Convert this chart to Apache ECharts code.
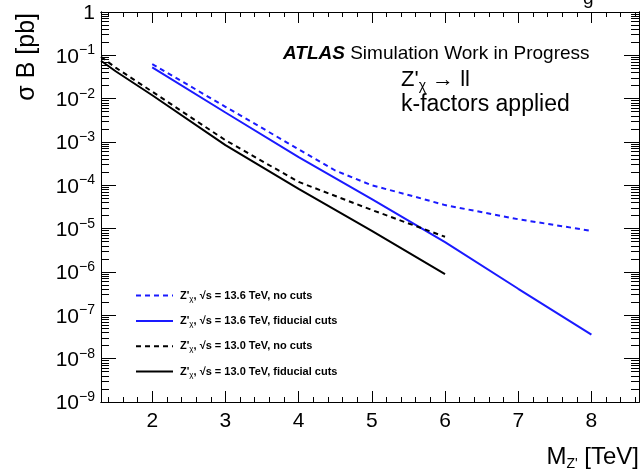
<!DOCTYPE html>
<html><head><meta charset="utf-8">
<script src="https://cdn.jsdelivr.net/npm/echarts@6/dist/echarts.min.js"></script>
<style>html,body{margin:0;padding:0;background:#fff}#c{width:641px;height:470px}</style>
</head><body><div id="c"></div>
<script>
// Z'_chi -> ll cross section times branching ratio [pb] vs mass [TeV]
const massNoCuts136 = [2, 3, 4, 4.5, 5, 5.5, 6, 7, 8];
const xsecNoCuts136 = [0.063, 6.5e-3, 6.8e-4, 2.2e-4, 1.0e-4, 6.0e-5, 3.5e-5, 1.65e-5, 8.9e-6];
const massFid136 = [2, 3, 4, 5, 6, 7, 8];
const xsecFid136 = [0.053, 4.8e-3, 4.5e-4, 4.8e-5, 4.9e-6, 4.1e-7, 3.6e-8];
const massNoCuts130 = [1.3, 1.5, 2, 3, 4, 5, 6];
const xsecNoCuts130 = [0.093, 0.052, 0.0145, 1.1e-3, 1.2e-4, 2.7e-5, 6.5e-6];
const massFid130 = [1.3, 1.5, 2, 3, 4, 5, 6];
const xsecFid130 = [0.075, 0.043, 0.012, 8.5e-4, 8.3e-5, 8.9e-6, 8.9e-7];

const seriesNames = [
  "Z'_χ, √s = 13.6 TeV, no cuts",
  "Z'_χ, √s = 13.6 TeV, fiducial cuts",
  "Z'_χ, √s = 13.0 TeV, no cuts",
  "Z'_χ, √s = 13.0 TeV, fiducial cuts"
];

// axis ticks
const xMajorTicks = [2, 3, 4, 5, 6, 7, 8];
const yDecades = [1e-9, 1e-8, 1e-7, 1e-6, 1e-5, 1e-4, 1e-3, 1e-2, 1e-1, 1];
const X_MIN = 1.3, X_MAX = 8.65;

const xMinorTicks = [];
for (let i = 7; i <= 43; i++) { if (i % 5 !== 0) xMinorTicks.push(i / 5); }
const yMinorTicks = [];
yDecades.slice(0, -1).forEach(d => { for (let k = 2; k <= 9; k++) yMinorTicks.push(k * d); });

const pairs = (xs, ys) => xs.map((x, i) => [x, ys[i]]);
const FONT = 'Liberation Sans';
const BLUE = '#1a1aff';

function lineSeries(name, xs, ys, color, dashed) {
  return {
    name, type: 'line', data: pairs(xs, ys), xAxisIndex: 0, yAxisIndex: 0,
    symbol: 'none', animation: false,
    lineStyle: { color, width: 2, type: dashed ? [5, 4] : 'solid' },
    itemStyle: { color }
  };
}

// frame axes that only carry tick marks
const tickAxisX = (pos, len, values) => ({
  type: 'value', position: pos, min: X_MIN, max: X_MAX,
  splitLine: { show: false },
  axisLine: { show: true, onZero: false, lineStyle: { color: '#000' } },
  axisTick: { show: true, inside: true, length: len, customValues: values },
  axisLabel: { show: false, customValues: values }
});
const tickAxisY = (pos, len, values) => ({
  type: 'log', logBase: 10, position: pos, min: 1e-9, max: 1,
  splitLine: { show: false },
  axisLine: { show: true, onZero: false, lineStyle: { color: '#000' } },
  axisTick: { show: true, inside: true, length: len, customValues: values },
  axisLabel: { show: false, customValues: values }
});

const chart = echarts.init(document.getElementById('c'));
chart.setOption({
  animation: false,
  backgroundColor: '#fff',
  grid: { left: 101, right: 2, top: 12, bottom: 68 },
  xAxis: [
    {
      type: 'value', position: 'bottom', min: X_MIN, max: X_MAX,
      splitLine: { show: false },
      axisLine: { show: true, onZero: false, lineStyle: { color: '#000' } },
      axisTick: { show: true, inside: true, length: 11, customValues: xMajorTicks },
      axisLabel: { show: true, customValues: xMajorTicks, color: '#000', fontSize: 21, fontFamily: FONT, margin: 9 }
    },
    tickAxisX('bottom', 5, xMinorTicks),
    tickAxisX('top', 11, xMajorTicks),
    tickAxisX('top', 5, xMinorTicks)
  ],
  yAxis: [
    {
      type: 'log', logBase: 10, position: 'left', min: 1e-9, max: 1,
      splitLine: { show: false },
      axisLine: { show: true, onZero: false, lineStyle: { color: '#000' } },
      axisTick: { show: true, inside: true, length: 15, customValues: yDecades },
      axisLabel: {
        show: true, customValues: yDecades, margin: 6, color: '#000',
        formatter: v => {
          const e = Math.round(Math.log10(v));
          return e === 0 ? '{b|1}' : '{b|10}{e|' + String(e).replace('-', '−') + '}';
        },
        rich: {
          b: { fontSize: 21, fontFamily: FONT, color: '#000', verticalAlign: 'bottom', lineHeight: 24 },
          e: { fontSize: 14, fontFamily: FONT, color: '#000', verticalAlign: 'top', lineHeight: 24, padding: [0, 0, 12, 0] }
        }
      }
    },
    tickAxisY('left', 8, yMinorTicks),
    tickAxisY('right', 15, yDecades),
    tickAxisY('right', 8, yMinorTicks)
  ],
  legend: {
    orient: 'vertical', left: 135, top: 290, padding: 0,
    itemWidth: 37, itemHeight: 14, itemGap: 12.7,
    selectedMode: false,
    data: seriesNames,
    itemStyle: { color: 'rgba(0,0,0,0)', borderColor: 'rgba(0,0,0,0)', borderWidth: 0, opacity: 0 },
    formatter: name => name.replace('_χ', '{s|χ}'),
    textStyle: {
      fontSize: 11, fontWeight: 'bold', fontFamily: FONT, color: '#000', padding: [0, 0, 0, 2],
      rich: { s: { fontSize: 8, fontWeight: 'normal', fontFamily: FONT, color: '#000', padding: [6, 0, 0, 0] } }
    }
  },
  series: [
    lineSeries(seriesNames[0], massNoCuts136, xsecNoCuts136, BLUE, true),
    lineSeries(seriesNames[1], massFid136, xsecFid136, BLUE, false),
    lineSeries(seriesNames[2], massNoCuts130, xsecNoCuts130, '#000', true),
    lineSeries(seriesNames[3], massFid130, xsecFid130, '#000', false)
  ],
  graphic: [
    {
      type: 'text', x: 583, y: 8,
      style: { text: 'g', fontSize: 19, fontFamily: FONT, fill: '#000', verticalAlign: 'bottom' }
    },
    {
      type: 'text', left: 283, top: 44,
      style: {
        text: '{a|ATLAS} Simulation Work in Progress',
        fontSize: 19, fontFamily: FONT, fill: '#000',
        rich: { a: { fontSize: 19, fontFamily: FONT, fontWeight: 'bold', fontStyle: 'italic', fill: '#000' } }
      }
    },
    {
      type: 'text', left: 401, top: 69,
      style: {
        text: "Z'{s|χ} → ll",
        fontSize: 22, fontFamily: FONT, fill: '#000',
        rich: { s: { fontSize: 14, fontFamily: FONT, fill: '#000', padding: [12, 0, 0, 0] } }
      }
    },
    {
      type: 'text', left: 401, top: 93,
      style: { text: 'k-factors applied', fontSize: 23, fontFamily: FONT, fill: '#000' }
    },
    {
      type: 'text', x: 27, y: 13, rotation: Math.PI / 2,
      style: { text: 'σ B [pb]', fontSize: 25, fontFamily: FONT, fill: '#000', align: 'right', verticalAlign: 'middle' }
    },
    {
      type: 'text', right: 2, top: 445,
      style: {
        text: "M{s|Z'} [TeV]",
        fontSize: 24, fontFamily: FONT, fill: '#000',
        rich: { s: { fontSize: 14, fontFamily: FONT, fill: '#000', padding: [14, 0, 0, 0] } }
      }
    }
  ]
});
</script>
</body></html>
